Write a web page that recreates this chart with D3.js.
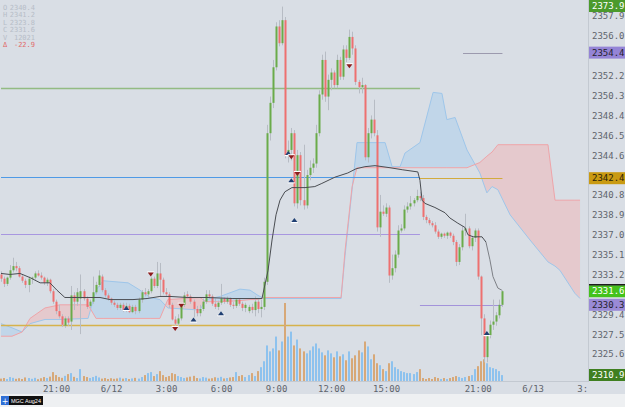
<!DOCTYPE html>
<html lang="en">
<head>
<meta charset="UTF-8">
<title>MGC Aug24</title>
<script src="https://d3js.org/d3.v7.min.js"></script>
<style>
  body { margin: 0; background: #d9dee5; }
  svg { display: block; }
  text { font-family: "DejaVu Sans Mono", monospace; }
</style>
</head>
<body>
<script>
const width = 625, height = 407;
const plotRight = 588, plotBottom = 381;

// 10-minute bars, [open, high, low, close], first bar 18:00 on 6/11
const candles = [
  [2333.2,2333.5,2332.5,2332.8],[2332.8,2333.0,2332.0,2332.3],[2332.3,2333.0,2332.1,2332.9],[2332.9,2334.1,2332.7,2333.6],
  [2333.6,2334.8,2333.4,2334.0],[2334.0,2334.4,2333.5,2333.8],[2333.8,2334.0,2332.9,2333.0],[2333.0,2333.2,2332.4,2332.6],
  [2332.6,2332.8,2331.9,2332.2],[2332.2,2333.0,2331.5,2332.8],[2332.8,2333.0,2332.3,2332.9],[2332.9,2333.5,2332.7,2333.3],
  [2333.3,2333.6,2333.0,2333.1],[2333.1,2333.4,2332.7,2332.9],[2332.9,2333.0,2332.2,2332.4],[2332.4,2332.9,2332.1,2332.7],
  [2332.7,2332.8,2331.4,2331.6],[2331.6,2331.8,2330.4,2330.6],[2330.6,2330.8,2329.4,2329.7],[2329.7,2330.3,2329.0,2329.2],
  [2329.2,2329.4,2328.2,2328.4],[2328.3,2329.2,2328.1,2329.0],[2329.0,2329.2,2328.3,2328.6],[2328.7,2332.1,2327.9,2331.2],
  [2331.2,2331.5,2329.8,2330.6],[2330.6,2331.9,2330.2,2331.5],[2330.9,2333.2,2327.5,2331.6],[2331.6,2331.8,2330.7,2330.9],
  [2330.9,2331.1,2329.9,2330.1],[2330.2,2330.8,2330.0,2330.6],[2330.6,2333.0,2330.4,2331.5],[2331.5,2332.5,2331.3,2332.2],
  [2332.2,2333.6,2332.0,2333.1],[2333.0,2333.2,2331.5,2331.7],[2331.7,2331.9,2331.0,2331.2],[2331.2,2331.4,2330.7,2330.9],
  [2330.9,2331.0,2330.3,2330.5],[2330.5,2330.7,2330.1,2330.3],[2330.3,2330.5,2329.8,2330.0],[2330.0,2330.5,2329.8,2330.3],
  [2330.3,2330.5,2329.6,2329.8],[2329.8,2330.5,2329.6,2330.2],[2330.2,2330.4,2329.5,2329.6],[2329.6,2330.3,2329.5,2330.1],
  [2330.1,2330.3,2329.4,2329.7],[2329.7,2331.0,2329.5,2330.8],[2330.8,2331.7,2330.5,2331.5],[2331.5,2331.9,2331.1,2331.3],
  [2331.3,2331.8,2331.0,2331.6],[2331.6,2333.0,2331.4,2332.8],[2332.8,2333.0,2331.9,2332.1],[2332.1,2334.4,2331.9,2333.3],
  [2333.3,2334.3,2331.1,2332.7],[2332.7,2332.9,2331.3,2331.5],[2331.5,2331.9,2331.1,2331.3],[2331.3,2331.5,2330.0,2330.3],
  [2330.3,2330.5,2328.8,2328.9],[2328.9,2329.2,2328.3,2328.5],[2328.5,2329.4,2328.2,2329.0],[2329.0,2330.5,2328.8,2330.3],
  [2330.3,2331.5,2330.1,2331.2],[2331.3,2331.6,2330.9,2331.1],[2331.1,2331.3,2330.4,2330.6],[2330.6,2330.8,2329.1,2329.9],
  [2329.9,2330.2,2329.2,2329.5],[2329.5,2330.3,2329.2,2329.9],[2329.9,2330.9,2329.7,2330.6],[2330.6,2331.7,2330.4,2331.3],
  [2331.3,2331.7,2330.9,2331.1],[2331.1,2331.3,2330.2,2330.4],[2330.4,2330.9,2329.9,2330.1],[2330.1,2330.7,2329.8,2330.5],
  [2330.5,2332.3,2330.3,2330.9],[2330.9,2331.0,2330.4,2330.6],[2330.6,2331.1,2330.4,2330.9],[2330.9,2331.0,2330.1,2330.3],
  [2330.3,2330.6,2329.9,2330.2],[2330.2,2330.9,2330.0,2330.8],[2330.8,2330.9,2330.2,2330.4],[2330.4,2330.6,2329.7,2330.0],
  [2330.0,2330.5,2329.6,2330.3],[2329.7,2330.3,2329.5,2330.1],[2330.1,2330.4,2329.5,2329.8],[2329.8,2331.1,2329.2,2330.6],
  [2330.6,2330.9,2329.5,2329.9],[2329.9,2330.8,2329.1,2330.1],[2330.1,2332.9,2329.8,2332.5],[2332.5,2347.5,2332.2,2346.7],
  [2346.7,2350.2,2346.0,2349.6],[2349.6,2353.7,2349.1,2353.0],[2353.0,2357.3,2352.7,2356.9],[2356.9,2357.5,2355.0,2355.3],
  [2355.3,2358.8,2355.1,2357.5],[2357.5,2357.8,2344.3,2344.6],[2344.6,2346.0,2343.9,2345.1],[2345.1,2347.2,2344.1,2346.7],
  [2346.7,2347.0,2339.7,2340.0],[2340.0,2345.1,2339.5,2344.6],[2344.6,2344.9,2339.8,2340.3],[2340.3,2345.6,2339.4,2339.8],
  [2339.8,2343.2,2339.5,2342.7],[2342.7,2344.1,2342.2,2343.4],[2343.4,2344.3,2342.9,2343.8],[2343.8,2347.5,2343.4,2346.7],
  [2346.7,2350.8,2346.4,2350.4],[2350.4,2354.2,2349.9,2353.7],[2353.7,2354.5,2349.7,2350.2],[2350.2,2352.3,2348.9,2351.8],
  [2351.8,2352.9,2350.8,2352.5],[2352.5,2352.7,2351.0,2351.3],[2351.3,2354.2,2351.0,2353.7],[2353.7,2354.0,2351.8,2352.1],
  [2352.1,2355.1,2351.8,2354.7],[2354.7,2355.1,2353.5,2353.9],[2353.9,2356.6,2353.7,2355.9],[2355.9,2356.4,2354.2,2354.8],
  [2354.8,2355.1,2351.3,2351.6],[2351.6,2351.8,2350.5,2351.1],[2351.1,2352.0,2350.5,2351.3],[2351.3,2351.4,2344.1,2344.4],
  [2344.4,2347.2,2343.9,2346.7],[2346.7,2348.4,2346.2,2348.0],[2348.0,2349.9,2346.4,2346.7],[2346.5,2347.0,2337.3,2337.7],
  [2337.7,2340.8,2336.8,2339.2],[2339.2,2339.8,2338.8,2339.0],[2339.0,2340.0,2338.7,2339.6],[2339.6,2339.8,2332.4,2333.1],
  [2333.1,2335.1,2332.7,2333.8],[2333.8,2335.5,2333.4,2335.1],[2335.1,2337.9,2334.8,2337.4],[2337.4,2338.0,2337.2,2337.6],
  [2337.6,2339.8,2337.4,2339.4],[2339.4,2340.1,2339.1,2339.7],[2339.7,2340.7,2339.4,2340.0],[2340.0,2340.5,2339.7,2340.3],
  [2340.3,2341.3,2340.1,2340.7],[2340.7,2341.1,2340.2,2340.5],[2340.5,2340.8,2338.4,2338.7],[2338.7,2338.9,2338.1,2338.4],
  [2338.4,2338.6,2337.9,2338.1],[2338.1,2338.3,2337.7,2337.9],[2337.9,2338.2,2337.1,2337.3],[2337.3,2337.5,2336.6,2336.8],
  [2336.8,2337.2,2336.6,2337.1],[2337.1,2337.2,2336.7,2336.9],[2336.9,2337.3,2336.6,2337.2],[2337.2,2337.3,2336.7,2336.9],
  [2336.9,2337.1,2336.0,2336.3],[2336.3,2336.5,2334.0,2334.4],[2334.4,2336.1,2334.1,2335.8],[2335.8,2337.8,2335.5,2337.4],
  [2337.4,2339.0,2336.9,2337.6],[2337.6,2337.8,2335.7,2335.9],[2335.9,2336.9,2335.5,2336.7],[2336.7,2337.6,2336.3,2337.4],
  [2337.4,2337.6,2332.7,2333.0],[2333.0,2333.1,2327.4,2329.0],[2329.0,2329.4,2324.8,2325.3],[2325.3,2327.6,2324.8,2327.4],
  [2327.4,2328.8,2327.1,2328.4],[2328.4,2330.8,2327.9,2328.7],[2328.7,2329.6,2328.3,2329.3],[2329.3,2330.8,2329.0,2330.3],
  [2330.3,2331.7,2330.1,2331.6]
];

const volumes = [
  120,150,100,200,160,110,140,100,180,150,110,160,90,140,200,150,220,
  450,300,200,
  160,260,350,400,210,150,
  600,250,200,
  150,200,260,180,120,150,100,140,110,130,170,120,150,100,130,160,120,200,
  300,400,450,250,350,500,300,200,250,
  400,350,250,200,150,
  180,220,260,150,130,200,170,120,140,190,160,210,130,150,180,
  200,450,250,300,
  200,300,400,250,500,700,
  1000,1800,1500,1650,2250,1550,2000,3950,
  2250,2500,1800,2100,1650,1500,1400,1550,1750,1900,1650,1450,1300,1550,
  1400,1200,1500,1250,1350,1050,1500,1150,1300,1550,1450,2000,1750,1100,
  1350,900,800,600,500,900,1000,700,600,500,450,400,400,350,450,600,
  150,100,150,100,200,150,100,150,100,150,200,250,200,
  150,200,250,300,600,750,
  1000,1100,900,700,650,600,500,300
];

// Ichimoku cloud (projected ahead), bar index and the two spans
const cloudIdx = [0,3.6,6.9,9.5,14.4,19.3,28.5,31.1,33.4,41.6,45.5,48.8,52,54.6,65.1,67.1,71.7,78.2,81.5,84.1,86.1,
  111.3,112.6,114.9,116.5,125.7,128,130.6,132.2,137.1,141.4,144.3,145.9,148.6,152.5,156.7,159,160.7,162.6,166.6,173.1,179,181.3,182.9,187.8,189.5];
const spanA = [2328.5,2328.1,2327.7,2328.5,2328.9,2328.9,2329.0,2331.7,2332.6,2332.4,2331.7,2331.0,2330.8,2330.0,2329.8,2330.8,2331.1,2331.8,2331.7,2331.2,2330.9,
  2330.9,2335.0,2341.3,2345.8,2345.8,2343.5,2343.5,2344.8,2345.8,2350.6,2350.5,2348.0,2348.2,2345.1,2342.9,2341.0,2341.6,2341.3,2338.9,2336.5,2334.4,2334.0,2333.6,2331.4,2330.9];
const spanB = [2327.3,2327.3,2327.7,2329.0,2330.0,2330.3,2330.3,2329.0,2329.0,2329.0,2329.0,2329.0,2329.0,2330.8,2331.0,2330.6,2330.6,2330.7,2330.8,2330.8,2331.0,
  2331.0,2335.5,2341.6,2343.4,2343.4,2343.4,2343.4,2343.4,2343.4,2343.4,2343.4,2343.4,2343.4,2343.4,2343.9,2344.5,2344.9,2345.6,2345.6,2345.6,2345.6,2340.3,2340.3,2340.3,2340.3];

// average line
const lineIdx = [0,2.9,6.2,9.5,12.8,16,18.3,20.9,24.9,32.4,35.7,43.2,47.8,52,55.3,60.9,67.4,75.9,85.4,87.4,88.7,90,91.3,92.9,95.2,99.5,
  102.7,105,109.3,113.5,116.2,119.1,122.4,127.3,131.5,136.4,137.1,137.8,138.7,142,145.3,146.9,149.5,151.8,152.8,154.5,157.4,158.7,160,161,162.6,163.9];
const lineVals = [2333.3,2333.2,2333.3,2332.9,2332.4,2332.4,2331.7,2331.0,2331.0,2331.0,2330.8,2330.8,2330.9,2331.1,2331.1,2331.0,2331.0,2330.9,2330.9,2333.6,2336.5,2338.9,2340.3,2341.1,2341.5,2341.5,
  2341.6,2341.9,2342.5,2342.9,2343.3,2343.5,2343.6,2343.4,2343.2,2343.0,2342.2,2340.3,2340.0,2339.6,2339.1,2338.6,2338.1,2337.7,2337.0,2336.8,2336.8,2336.3,2334.6,2333.0,2331.9,2331.7];

// horizontal levels
const levelPrices = [2351.0, 2342.5, 2337.1, 2328.4, 2342.4, 2330.3, 2354.4];
const levelFrom   = [0, 0, 0, 0, 137.1, 137.1, 151.2];
const levelTo     = [137.1, 137.1, 137.1, 137.1, 164.1, 164.1, 164.1];

// signal markers
const markerBars   = [41, 49, 57, 59, 63, 72, 94, 95, 97, 95, 96, 114, 159];
const markerPrices = [2330.0, 2333.2, 2328.0, 2330.2, 2328.9, 2329.5, 2344.8, 2344.4, 2342.8, 2342.2, 2338.4, 2353.1, 2327.6];
const markerUp     = [1, 0, 0, 0, 1, 1, 1, 0, 0, 1, 1, 0, 1];

// price ticks (the ones hidden under the badges are left out)
const priceTicks = [2357.9, 2356.0, 2352.2, 2350.3, 2348.4, 2346.5, 2344.6, 2340.8, 2338.9,
  2337.0, 2335.1, 2333.2, 2329.4, 2327.5, 2325.6];
const timeTickBars   = [18, 36, 54, 72, 90, 108, 126, 156, 174, 192];
const timeTickLabels = ["21:00", "6/12", "3:00", "6:00", "9:00", "12:00", "15:00", "21:00", "6/13", "3:00"];

const badgePrices = [2373.9, 2354.4, 2342.4, 2331.6, 2330.3, 2310.9];

const legendKeys   = ["O", "H", "L", "C", "V", "\u0394"];
const legendValues = ["2340.4", "2341.2", "2323.8", "2331.6", "12021", "-22.9"];

// ---------------------------------------------------------------
const svg = d3.select("body").append("svg")
    .attr("width", width).attr("height", height);

svg.append("rect").attr("width", width).attr("height", height).style("fill", "#d9dee5");
svg.append("rect").attr("y", 394).attr("width", width).attr("height", height - 394).style("fill", "#eef0f2");

const x = d3.scaleLinear().domain([0, 192]).range([1, 587.7]);
const y = d3.scaleLinear().domain([2325.6, 2357.9]).range([354, 16]);
const yv = d3.scaleLinear().domain([0, 4000]).range([plotBottom, 302]);

const defs = svg.append("defs");
defs.append("clipPath").attr("id", "plotClip")
    .append("rect").attr("width", plotRight).attr("height", plotBottom);

const cloud = cloudIdx.map((d, i) => ({i: d, a: spanA[i], b: spanB[i]}));
defs.append("clipPath").attr("id", "aboveB")
    .append("path").datum(cloud)
    .attr("d", d3.area().x(d => x(d.i)).y0(0).y1(d => y(d.b)));
defs.append("clipPath").attr("id", "belowB")
    .append("path").datum(cloud)
    .attr("d", d3.area().x(d => x(d.i)).y0(d => y(d.b)).y1(height));

const plot = svg.append("g").attr("clip-path", "url(#plotClip)");

// cloud
const between = d3.area().x(d => x(d.i)).y0(d => y(d.a)).y1(d => y(d.b));
plot.append("g").attr("clip-path", "url(#aboveB)")
    .append("path").datum(cloud).attr("d", between)
    .style("fill", "#a9cdee").style("fill-opacity", 0.5);
plot.append("g").attr("clip-path", "url(#belowB)")
    .append("path").datum(cloud).attr("d", between)
    .style("fill", "#f2b3b6").style("fill-opacity", 0.5);
plot.append("path").datum(cloud)
    .attr("d", d3.line().x(d => x(d.i)).y(d => y(d.a)))
    .style("fill", "none").style("stroke", "#9ec6ea").style("stroke-width", 1);
plot.append("path").datum(cloud)
    .attr("d", d3.line().x(d => x(d.i)).y(d => y(d.b)))
    .style("fill", "none").style("stroke", "#f0a4a8").style("stroke-width", 1);

// levels
const levelColors = ["#93bb83", "#4f9ae6", "#a897e0", "#d6b24c", "#d2ab3e", "#a393da", "#9c9aae"];
const levelWidths = [1.6, 1, 1, 1.6, 1.2, 1.2, 1];
plot.selectAll("line.level").data(levelPrices).join("line")
    .attr("class", "level")
    .attr("x1", (d, i) => x(levelFrom[i])).attr("x2", (d, i) => x(levelTo[i]))
    .attr("y1", d => Math.round(y(d)) + 0.5).attr("y2", d => Math.round(y(d)) + 0.5)
    .style("stroke", (d, i) => levelColors[i])
    .style("stroke-width", (d, i) => levelWidths[i]);

// volume
plot.selectAll("rect.vol").data(volumes).join("rect")
    .attr("class", "vol")
    .attr("x", (d, i) => Math.round(x(i)) - 1).attr("width", 2)
    .attr("y", d => yv(d)).attr("height", d => plotBottom - yv(d))
    .style("fill", (d, i) => candles[i][3] >= candles[i][0] ? "#8dc2ee" : "#d7a878");

// candles
plot.selectAll("line.wick").data(candles).join("line")
    .attr("class", "wick")
    .attr("x1", (d, i) => Math.round(x(i)) + 0.5).attr("x2", (d, i) => Math.round(x(i)) + 0.5)
    .attr("y1", d => y(d[1])).attr("y2", d => y(d[2]))
    .style("stroke", "#b7bcc4").style("stroke-width", 1);
plot.selectAll("rect.body").data(candles).join("rect")
    .attr("class", "body")
    .attr("x", (d, i) => Math.round(x(i)) - 0.5).attr("width", 2)
    .attr("y", d => y(Math.max(d[0], d[3])))
    .attr("height", d => Math.max(1, Math.abs(y(d[0]) - y(d[3]))))
    .style("fill", d => d[3] >= d[0] ? "#6aab4a" : "#ee7070");

// average line
const lineData = lineIdx.map((d, i) => [d, lineVals[i]]);
plot.append("path").datum(lineData.filter(d => d[0] <= 158.7))
    .attr("d", d3.line().x(d => x(d[0])).y(d => y(d[1])))
    .style("fill", "none").style("stroke", "#4a4d52").style("stroke-width", 1);
plot.append("path").datum(lineData.filter(d => d[0] >= 158.7))
    .attr("d", d3.line().x(d => x(d[0])).y(d => y(d[1])))
    .style("fill", "none").style("stroke", "#7d8086").style("stroke-width", 1);

// markers
const mk = plot.selectAll("g.marker").data(markerBars).join("g")
    .attr("class", "marker")
    .attr("transform", (d, i) => `translate(${x(d)},${y(markerPrices[i])})`);
mk.append("line")
    .attr("x1", -3.5).attr("x2", 3.5)
    .attr("y1", (d, i) => markerUp[i] ? 2.5 : -2.5).attr("y2", (d, i) => markerUp[i] ? 2.5 : -2.5)
    .style("stroke", "#ffffff").style("stroke-width", 1.2);
mk.append("path")
    .attr("d", (d, i) => markerUp[i] ? "M-3,2L0,-2L3,2Z" : "M-3,-2L0,2L3,-2Z")
    .style("fill", (d, i) => markerUp[i] ? "#1f3f73" : "#8e1c1c");

// frame lines
svg.append("line").attr("x1", plotRight + 0.5).attr("x2", plotRight + 0.5)
    .attr("y1", 0).attr("y2", plotBottom + 1).style("stroke", "#c3c9d1");
svg.append("line").attr("x1", 0).attr("x2", plotRight).attr("y1", plotBottom + 0.5).attr("y2", plotBottom + 0.5)
    .style("stroke", "#c3c9d1");

// price axis
const yAxis = svg.append("g").attr("transform", `translate(${plotRight + 1},0)`)
    .call(d3.axisRight(y).tickValues(priceTicks).tickSize(0).tickPadding(3).tickFormat(d3.format(".1f")));
yAxis.select(".domain").remove();
yAxis.selectAll("text").style("font-size", "9px").style("fill", "#5f646c")
    .style("font-family", "DejaVu Sans Mono, monospace");

// time axis
defs.append("clipPath").attr("id", "timeClip")
    .append("rect").attr("x", 0).attr("y", plotBottom).attr("width", plotRight).attr("height", 14);
const xAxis = svg.append("g").attr("clip-path", "url(#timeClip)")
    .append("g").attr("transform", `translate(0,${plotBottom})`)
    .call(d3.axisBottom(x).tickValues(timeTickBars).tickSize(0).tickPadding(5)
        .tickFormat((d, i) => timeTickLabels[i]));
xAxis.select(".domain").remove();
xAxis.selectAll("text").style("font-size", "9px").style("fill", "#5f646c")
    .style("font-family", "DejaVu Sans Mono, monospace");

// price badges
const badgeFill = ["#4b9a2c", "#9484d6", "#c99a12", "#44c21c", "#9a8ad6", "#3f7f20"];
const badgeText = ["#ffffff", "#24222e", "#2a2208", "#ffffff", "#24222e", "#ffffff"];
const badge = svg.selectAll("g.badge").data(badgePrices).join("g")
    .attr("class", "badge")
    .attr("transform", d => `translate(${plotRight + 1},${Math.max(0, Math.min(plotBottom - 12, y(d) - 6))})`);
badge.append("rect").attr("width", width - plotRight).attr("height", 12)
    .style("fill", (d, i) => badgeFill[i]);
badge.filter(d => d === 2331.6).append("line")
    .attr("x1", 0).attr("x2", width - plotRight).attr("y1", -0.5).attr("y2", -0.5)
    .style("stroke", "#1d1d1d").style("stroke-width", 1.5);
badge.append("text").attr("x", 3).attr("y", 6).attr("dy", "0.35em")
    .style("font-size", "9px").style("fill", (d, i) => badgeText[i])
    .text(d => d3.format(".1f")(d));

// header legend
const legend = svg.selectAll("g.legend").data(legendKeys).join("g")
    .attr("class", "legend")
    .attr("transform", (d, i) => `translate(3,${10 + i * 7.4})`);
legend.append("text").text(d => d)
    .style("font-size", "7px")
    .style("fill", (d, i) => i === 5 ? "#e06a6a" : "#b7bdc7");
legend.append("text").attr("x", 32).attr("text-anchor", "end")
    .text((d, i) => legendValues[i])
    .style("font-size", "7px")
    .style("fill", (d, i) => i === 5 ? "#e06a6a" : "#b7bdc7");

// instrument tab
svg.append("rect").attr("x", 1).attr("y", 396).attr("width", 8).attr("height", 9).style("fill", "#2f6fd6");
svg.append("text").attr("x", 5).attr("y", 403.5).attr("text-anchor", "middle")
    .style("font-size", "8px").style("fill", "#fff").style("font-family", "DejaVu Sans, sans-serif").text("+");
svg.append("rect").attr("x", 9).attr("y", 396).attr("width", 34).attr("height", 9).style("fill", "#111");
svg.append("text").attr("x", 11).attr("y", 403)
    .attr("textLength", 30).attr("lengthAdjust", "spacingAndGlyphs")
    .style("font-size", "6px").style("fill", "#fff").style("font-family", "Liberation Sans, sans-serif")
    .text("MGC Aug24");
</script>
</body>
</html>
